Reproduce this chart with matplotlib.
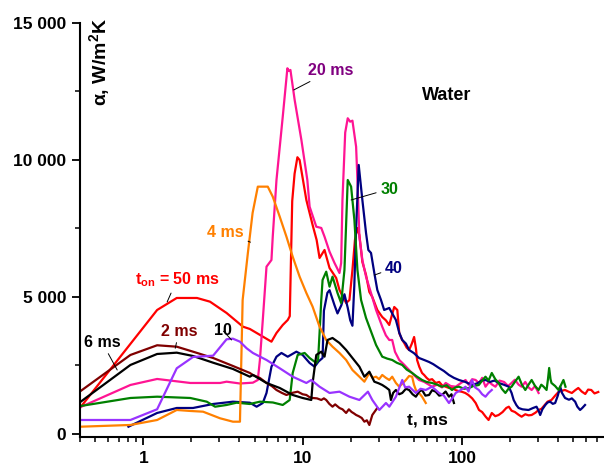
import matplotlib
matplotlib.use("Agg")
import matplotlib.pyplot as plt
from matplotlib.ticker import NullFormatter, LogLocator

plt.rcParams['font.family'] = ['Liberation Sans', 'DejaVu Sans']
plt.rcParams['font.weight'] = 'bold'
plt.rcParams['mathtext.fontset'] = 'custom'
plt.rcParams['mathtext.rm'] = 'Liberation Sans:bold'
plt.rcParams['mathtext.bf'] = 'Liberation Sans:bold'
plt.rcParams['mathtext.it'] = 'Liberation Sans:bold'

# (t in ms, alpha in W/m2K)
on_50ms = [(0.404, 985), (1.22, 4526), (1.62, 4964), (2.17, 4964), (2.62, 4829), (3.33, 4416),
           (4.22, 3916), (4.66, 3833), (6.37, 3369), (6.85, 3686), (7.5, 3978), (8.06, 4161),
           (8.3, 4300), (8.6, 8500), (8.9, 9500), (9.27, 10100), (9.57, 10000), (10.55, 8541),
           (11.55, 7628), (12.24, 7081), (12.77, 6424), (13.72, 6716), (14.75, 6059), (16.24, 5694),
           (17.03, 5256), (18.75, 4781), (19.67, 4891), (20.54, 5986), (21.3, 7081), (22.0, 7519),
           (22.71, 7263), (23.71, 6278), (25.0, 5804), (26.23, 5183), (27.38, 5000), (29.43, 4526),
           (31.6, 4270), (33.3, 4150), (34.98, 3978), (36.2, 4300), (37.6, 4635), (39.3, 4526),
           (40.4, 3686), (42.0, 3450), (43.4, 3322), (45.0, 3150), (46.6, 3066), (48.5, 3300),
           (50.1, 3540), (51.5, 3100), (52.3, 2701), (54.0, 2450), (56.2, 2226), (58.0, 2150),
           (60.0, 2050), (62.2, 1971), (65.0, 2000), (68.5, 1862), (72.0, 1900), (75.0, 1780),
           (79.0, 1726), (83.0, 1680), (87.0, 1700), (91.0, 1606), (96.0, 1560), (100, 1540),
           (105, 1496), (110, 1420), (116, 1300), (122, 1131), (128, 876), (134, 800), (141, 631),
           (147, 511), (154, 766), (162, 650), (170, 693), (180, 800), (190, 950), (197, 996),
           (205, 850), (215, 803), (227, 700), (237, 631), (250, 720), (262, 680), (274, 693),
           (290, 780), (303, 876), (316, 920), (330, 1050), (345, 1180), (365, 1241), (385, 1400),
           (404, 1533), (425, 1580), (444, 1606), (465, 1550), (490, 1496), (515, 1600), (538, 1679),
           (565, 1550), (595, 1460), (620, 1620), (649, 1606), (680, 1480), (718, 1533)]

on_20ms = [(0.404, 985), (0.829, 1789), (1.22, 2008), (1.97, 1862), (3.03, 1862), (3.33, 1909),
           (4.04, 1843), (4.87, 1873), (5.23, 1971), (5.39, 2701), (5.62, 4161), (5.93, 6106),
           (6.37, 6351), (6.49, 7202), (6.85, 9271), (7.5, 11581), (8.02, 13348), (8.2, 13250),
           (8.38, 13286), (8.91, 12191), (9.82, 10731), (10.7, 9271), (11.06, 8296), (12.18, 7566),
           (13.09, 7519), (13.72, 7202), (14.75, 6654), (15.85, 6242), (17.03, 5876), (17.45, 6242),
           (17.78, 8541), (18.5, 11000), (19.19, 11523), (19.87, 11399), (20.54, 11435),
           (21.66, 10486), (22.08, 9271), (22.71, 7202), (23.71, 6351), (25.0, 5742), (26.87, 5147),
           (28.9, 4526), (31.6, 3916), (33.3, 3600), (34.98, 3431), (36.5, 3431), (38.0, 3000),
           (40.4, 2701), (43.0, 2550), (46.6, 2336), (50.0, 2150), (53.8, 1971), (58.0, 1900),
           (62.0, 1800), (64.9, 1726), (70.0, 1800), (75.0, 1700), (79.1, 1862), (85.0, 1750),
           (91.4, 1726), (98.0, 1850), (105.4, 1971), (110, 1800), (116, 2000), (121.9, 1971),
           (128, 1850), (134, 2050), (140.6, 1726), (148, 1900), (155, 1800), (162.4, 1726),
           (172, 1950), (184, 1898), (195, 1750), (205, 1862), (215, 1980), (227, 1800), (237, 1726),
           (250, 1900), (262, 1700), (274, 1606), (288, 1750), (303, 1496)]

on_40ms = [(0.806, 266), (1.22, 767), (1.62, 949), (2.05, 949), (2.74, 1095), (3.65, 1179),
           (4.66, 1142), (5.14, 996), (5.62, 1131), (5.93, 1496), (6.37, 2456), (6.85, 2821),
           (7.36, 2957), (8.06, 2821), (9.13, 3004), (10.0, 2884), (11.06, 2592), (11.89, 2456),
           (12.6, 2650), (13.34, 2774), (13.6, 4500), (14.3, 5150), (14.75, 5250), (15.85, 4700),
           (16.55, 4400), (17.5, 4700), (18.3, 5100), (19.2, 4600), (19.9, 4150), (20.54, 3950),
           (21.1, 5400), (21.66, 7500), (22.49, 9819), (23.71, 8541), (25.0, 7337), (25.85, 6716),
           (26.87, 6607), (28.18, 5877), (29.43, 5256), (31.0, 4900), (32.5, 4526), (34.98, 4599),
           (36.5, 4400), (38.5, 4161), (40.4, 3700), (42.2, 3431), (44.5, 3300), (46.6, 3066),
           (50.0, 2950), (53.8, 2774), (58, 2700), (62.2, 2628), (66, 2550), (71.8, 2409), (77, 2300),
           (82.9, 2154), (89, 2050), (95.8, 1971), (105, 1900), (115.5, 1789), (125, 1850),
           (133, 1950), (140.6, 1971), (150, 1900), (160, 1950), (170.3, 1862), (183, 1800),
           (196.7, 1726), (205, 1500), (211.3, 1241), (220, 1050), (227, 949), (240, 900), (262, 876),
           (280, 950), (294, 996), (303, 850), (310, 693), (320, 900), (334, 1059), (345, 1150),
           (358, 1179), (372, 1100), (385, 1131), (400, 1400), (414, 1726), (425, 1500), (444, 1314),
           (470, 1250), (490, 1300), (514, 1179), (530, 1000), (552, 876), (570, 950), (593, 1059)]

on_30ms = [(0.404, 1022), (0.829, 1314), (1.22, 1361), (1.97, 1314), (2.5, 1179), (2.82, 996),
           (3.33, 1059), (3.85, 1142), (4.66, 1095), (5.39, 1179), (6.5, 1150), (7.5, 1059),
           (8.29, 1241), (8.66, 2226), (9.31, 2884), (10.29, 2957), (11.06, 2774), (12.18, 2592),
           (12.5, 2700), (12.77, 3686), (13.09, 4891), (13.34, 5621), (14.06, 5924), (14.75, 5376),
           (15.4, 5742), (16.55, 5147), (17.45, 4781), (18.3, 5986), (19.19, 9271), (20.15, 9027),
           (21.13, 7811), (22.08, 5986), (23.27, 4891), (25.0, 4234), (26.23, 3906), (28.9, 3249),
           (31.6, 2822), (34.0, 2750), (36.5, 2701), (39.0, 2600), (42.2, 2519), (45.0, 2350),
           (48.7, 2227), (52.0, 2100), (56.2, 1971), (60.0, 1900), (64.9, 1862), (70.0, 1800),
           (75, 1726), (80, 1780), (86.6, 1606), (91, 1700), (95.8, 1726), (103, 1650), (111, 1679),
           (118, 1750), (127.7, 1789), (134, 1950), (140.6, 2091), (147, 1950), (154, 2227),
           (162, 2000), (170, 1862), (178, 1650), (187.5, 1497), (196, 1650), (205, 1726),
           (215, 1900), (227, 2091), (238, 1800), (250, 1606), (262, 1800), (274, 1971), (288, 1750),
           (303, 1606), (315, 1800), (326, 1726), (340, 1606), (347, 2000), (353, 2409), (360, 2000),
           (365, 1862), (385, 1750), (404, 1606), (420, 1800), (434, 1971), (447, 1726)]

on_4ms = [(0.404, 266), (0.829, 329), (1.22, 511), (1.62, 876), (1.97, 840), (2.37, 814),
          (3.03, 573), (3.65, 449), (4.04, 449), (4.2, 4891), (4.53, 6607), (4.85, 8067),
          (5.23, 9027), (6.04, 9027), (6.49, 8662), (7.18, 7931), (7.91, 7202), (8.66, 6471),
          (9.57, 5742), (10.55, 5147), (11.55, 4646), (12.77, 3916), (14.06, 3431), (15.4, 3187),
          (17.03, 2957), (18.75, 2701), (20.54, 2336), (22.71, 2091), (24.41, 1909), (26.23, 2227),
          (27.5, 2050), (28.9, 2091), (30.2, 2000), (31.6, 2154), (33.3, 2050), (35.0, 1971),
          (36.5, 2091), (38.5, 1862), (40.4, 1726), (42.5, 1850), (44.5, 1971), (46.6, 2117),
          (48.7, 2091), (50.0, 1800), (51.4, 1606), (53.8, 1497), (56.2, 1361), (59.3, 1131)]

on_2ms = [(0.404, 1570), (0.829, 2884), (1.22, 3238), (1.62, 3186), (2.05, 3004), (2.74, 2774),
          (3.65, 2482), (4.66, 2227), (4.87, 2154), (5.39, 2044), (5.93, 1862), (6.4, 1750),
          (6.85, 1606), (7.4, 1500), (7.91, 1424), (8.6, 1500), (9.31, 1544), (10.0, 1450),
          (10.55, 1424), (11.0, 1350), (11.55, 1314), (12.3, 1300), (13.09, 1241), (13.6, 1300),
          (14.06, 1241), (14.7, 1100), (15.4, 997), (16.0, 1080), (17.03, 949), (17.8, 900),
          (18.75, 767), (19.5, 900), (20.3, 803), (21.0, 750), (21.66, 694), (22.5, 650),
          (23.5, 584), (24.41, 449), (25.3, 500), (26.23, 329), (27.38, 694), (29.43, 949)]

on_6ms = [(0.404, 1179), (0.829, 2519), (1.22, 2920), (1.62, 2968), (2.05, 2847), (2.74, 2602),
          (3.65, 2373), (4.66, 2091), (4.87, 2154), (5.93, 1862), (7.18, 1679), (8.66, 1424),
          (10.0, 1314), (11.33, 1241), (11.55, 1862), (12.18, 2884), (13.09, 3004), (13.72, 2822),
          (14.33, 3431), (15.4, 3504), (17.03, 3322), (18.75, 3066), (20.54, 2774), (22.71, 2456),
          (24.41, 2091), (26.23, 2274), (28.18, 1909), (30.0, 1850), (31.6, 1789), (33.35, 1700),
          (35.0, 1606), (35.83, 1241), (37.0, 1500), (38.5, 1606), (40.4, 1450), (42.2, 1497),
          (44.5, 1650), (46.6, 1606), (49.0, 1450), (51.4, 1361), (54.0, 1550), (56.2, 1606),
          (59.0, 1400), (62.2, 1424), (65.0, 1600), (68.5, 1544), (72.0, 1400), (75.0, 1424),
          (79.0, 1550), (82.9, 1361), (86.0, 1450), (89.1, 1131)]

on_10ms = [(0.404, 511), (0.829, 511), (1.22, 902), (1.62, 2398), (2.05, 2811), (2.74, 2858),
           (3.33, 3457), (3.65, 3478), (4.04, 3369), (4.45, 3128), (4.87, 2957), (5.93, 2701),
           (7.18, 2398), (8.66, 2091), (10.55, 1862), (11.33, 1971), (12.77, 1726), (14.75, 1497),
           (17.03, 1544), (19.67, 1361), (22.71, 1241), (25.7, 1544), (27.38, 1241), (30.3, 876),
           (33.35, 1131), (35.0, 997), (38.5, 1361), (42.2, 1971), (44.0, 1700), (46.6, 1726),
           (51.4, 1497), (55.0, 1650), (59.3, 1606), (64.9, 1726), (71.8, 1497), (77.0, 1400),
           (82.9, 1131), (87.0, 1300), (91.4, 1497), (98.0, 1600), (105.4, 1726), (110, 1550),
           (115.5, 1971), (121, 1700), (127.7, 1606), (134, 1450), (140.6, 1361), (147, 1500),
           (154, 1606)]

curves = [(on_50ms, '#FF0000'), (on_20ms, '#FF1493'), (on_40ms, '#000080'), (on_30ms, '#008000'),
          (on_4ms, '#FF8000'), (on_2ms, '#800000'), (on_6ms, '#000000'), (on_10ms, '#9933FF')]

fig = plt.figure(figsize=(6.04, 4.66), dpi=100)
ax = fig.add_axes([80 / 604, 29 / 466, 524 / 604, 414 / 466])

for data, col in curves:
    t, a = zip(*data)
    ax.plot(t, a, color=col, lw=1.6)

ax.set_xscale('log')
ax.set_xlim(0.4, 780)
ax.set_ylim(-110, 15000)

ax.spines['top'].set_visible(False)
ax.spines['right'].set_visible(False)
ax.spines['left'].set_linewidth(1.5)
ax.spines['bottom'].set_linewidth(1.5)

ax.set_yticks([0, 5000, 10000, 15000], ['0', '5 000', '10 000', '15 000'],
              fontsize=12.5, fontweight='bold')
ax.set_yticks([2500, 7500, 12500], minor=True)
ax.set_xticks([1, 10, 100], ['1', '10', '100'], fontsize=12.5, fontweight='bold')
ax.xaxis.set_minor_locator(LogLocator(base=10, subs=range(2, 10)))
ax.xaxis.set_minor_formatter(NullFormatter())
ax.tick_params(which='major', length=6, width=1.3, pad=4)
ax.tick_params(which='minor', length=3.5, width=1.1)

ax.text(0.038, 0.905, 'α, W/m$^{2}$K', transform=ax.transAxes, rotation=90,
        ha='center', va='center', fontsize=14, fontweight='bold')
ax.text(0.7, 0.826, 'Water', transform=ax.transAxes, ha='center', va='center',
        fontsize=13, fontweight='bold')
ax.text(0.664, 0.041, 't, ms', transform=ax.transAxes, ha='center', va='center',
        fontsize=12.5, fontweight='bold')

lead = dict(arrowstyle='-', color='black', lw=0.7, shrinkA=1, shrinkB=0)
labels = [('20 ms', '#800080', (0.479, 0.885), (8.79, 12556)),
          (r'$\mathbf{t}_{\mathbf{on}}$ = 50 ms', '#FF0000', (0.185, 0.38), (1.41, 4818)),
          ('4 ms', '#FF8000', (0.278, 0.495), (4.7, 7000)),
          ('30', '#008000', (0.590, 0.599), (20.15, 8541)),
          ('40', '#000080', (0.599, 0.408), (28.2, 5800)),
          ('2 ms', '#800000', (0.189, 0.256), (1.585, 3128)),
          ('10', '#000000', (0.272, 0.258), (3.58, 3431)),
          ('6 ms', '#000000', (0.042, 0.229), (0.685, 2336))]
for txt, col, pos, tgt in labels:
    ax.annotate(txt, xy=tgt, xytext=pos, textcoords='axes fraction', ha='center', va='center',
                color=col, fontsize=11.5, fontweight='bold', arrowprops=lead)

fig.savefig('out.png', dpi=100)
